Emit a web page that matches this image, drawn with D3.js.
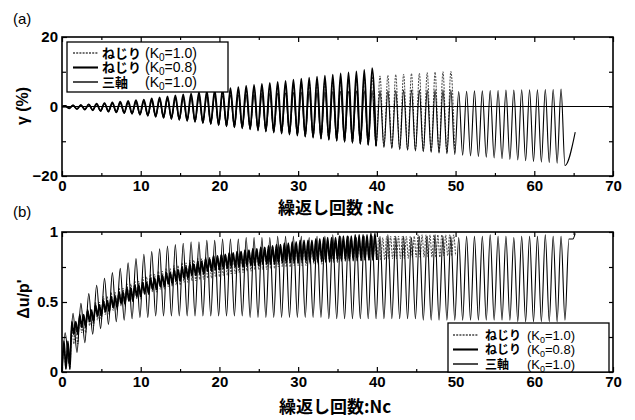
<!DOCTYPE html>
<html>
<head>
<meta charset="utf-8">
<script src="https://cdn.jsdelivr.net/npm/d3@7"></script>
<style>
body { margin: 0; background: #fff; }
text { font-family: "Liberation Sans", "Noto Sans CJK JP", sans-serif; fill: #000; }
</style>
</head>
<body>
<svg id="chart" width="635" height="420"></svg>
<script>
// tick values
var xTicks = [0, 10, 20, 30, 40, 50, 60, 70];
var xMinor = [5, 15, 25, 35, 45, 55, 65];
var gammaTicks = [-20, 0, 20];
var gammaMinor = [-10, 10];
var ratioTicks = [0, 0.5, 1];
var ratioMinor = [0.25, 0.75];

// legend
var legendNames = ["ねじり", "ねじり", "三軸"];
var legendK0 = ["1.0", "0.8", "1.0"];

// (a) shear strain peaks per cycle, %
var gammaTriUp = [0.3,0.4,0.5,0.6,0.6,0.8,0.9,1.0,1.1,1.2, 1.3,1.5,1.7,1.9,2.1,2.3,2.5,2.7,2.9,3.0,
  3.1,3.2,3.3,3.4,3.5,3.6,3.7,3.8,3.9,4.0, 4.1,4.2,4.2,4.3,4.3,4.4,4.4,4.5,4.5,4.5,
  4.6,4.6,4.6,4.7,4.7,4.7,4.7,4.8,4.8,4.8, 4.3,4.4,4.5,4.5,4.6,4.6,4.7,4.7,4.8,4.8,4.8,4.9,4.9,5.0];
var gammaTriLo = [-0.6,-0.8,-1.0,-1.2,-1.4,-1.6,-1.8,-2.0,-2.2,-2.5, -2.8,-3.1,-3.4,-3.7,-4.0,-4.3,-4.6,-4.9,-5.2,-5.5,
  -5.8,-6.1,-6.4,-6.7,-7.0,-7.3,-7.6,-7.9,-8.2,-8.5, -8.8,-9.1,-9.4,-9.7,-10.0,-10.3,-10.6,-10.9,-11.2,-11.5,
  -11.8,-12.1,-12.4,-12.6,-12.8,-13.0,-13.2,-13.4,-13.6,-13.8, -14.0,-14.2,-14.4,-14.6,-14.8,-15.0,-15.2,-15.4,-15.6,-15.8,-16.0,-16.1,-16.3,-17.0];
var gammaTriTailN = [65.2];
var gammaTriTail = [-7.4];
var gammaT10Up = [0.2,0.3,0.5,0.6,0.8,1.0,1.1,1.3,1.5,1.7, 1.9,2.1,2.3,2.6,2.8,3.0,3.3,3.5,3.8,4.0,
  4.3,4.5,4.8,5.0,5.3,5.5,5.8,6.0,6.3,6.5, 6.8,7.0,7.2,7.4,7.6,7.8,8.0,8.2,8.4,8.6,
  8.8,9.0,9.2,9.3,9.5,9.6,9.8,9.9,10.0,10.1];
var gammaT10Lo = [-0.5,-0.7,-0.9,-1.1,-1.3,-1.5,-1.7,-1.9,-2.1,-2.3, -2.6,-2.9,-3.2,-3.5,-3.8,-4.1,-4.4,-4.7,-5.0,-5.3,
  -5.6,-5.9,-6.2,-6.5,-6.8,-7.1,-7.4,-7.7,-8.0,-8.3, -8.6,-8.9,-9.2,-9.5,-9.8,-10.1,-10.4,-10.7,-11.0,-11.3,
  -11.6,-11.9,-12.2,-12.4,-12.6,-12.8,-13.0,-13.2,-13.4,-13.6];
var gammaT08Up = [0.2,0.3,0.4,0.6,0.8,1.0,1.2,1.4,1.6,1.8, 2.0,2.3,2.6,2.9,3.2,3.5,3.8,4.1,4.4,4.7,
  5.0,5.3,5.6,5.9,6.2,6.5,6.8,7.1,7.4,7.7, 8.0,8.3,8.6,8.9,9.2,9.5,9.8,10.1,10.5,11.0];
var gammaT08Lo = [-0.5,-0.7,-0.8,-1.0,-1.2,-1.4,-1.6,-1.8,-2.0,-2.2, -2.5,-2.8,-3.1,-3.4,-3.7,-4.0,-4.3,-4.6,-4.9,-5.2,
  -5.5,-5.8,-6.1,-6.4,-6.7,-7.0,-7.3,-7.6,-7.9,-8.2, -8.5,-8.8,-9.1,-9.4,-9.7,-10.0,-10.3,-10.6,-10.9,-11.3];

// (b) excess pore pressure ratio per cycle
var ratioTriPeak = [0.28,0.42,0.49,0.56,0.62,0.67,0.71,0.74,0.78,0.81, 0.84,0.86,0.88,0.9,0.91,0.92,0.93,0.93,0.94,0.94,
  0.95,0.95,0.95,0.96,0.96,0.96,0.96,0.97,0.97,0.97, 0.97,0.96,0.97,0.97,0.98,0.97,0.97,0.96,0.97,0.97,
  0.97,0.98,0.97,0.97,0.96,0.97,0.97,0.98,0.97,0.97, 0.96,0.97,0.97,0.97,0.98,0.97,0.97,0.96,0.97,0.97,0.97,0.98,0.97,0.97];
var ratioTriDip = [0.06,0.14,0.21,0.27,0.31,0.34,0.36,0.37,0.38,0.39, 0.39,0.4,0.4,0.4,0.4,0.4,0.4,0.4,0.4,0.4,
  0.4,0.4,0.4,0.39,0.39,0.39,0.39,0.39,0.39,0.39, 0.39,0.39,0.39,0.38,0.38,0.38,0.38,0.38,0.38,0.38,
  0.38,0.38,0.38,0.38,0.38,0.37,0.37,0.37,0.37,0.37, 0.37,0.37,0.37,0.37,0.37,0.37,0.37,0.36,0.36,0.36,0.36,0.36,0.36,0.37];
var ratioTriTailN = [64.4, 64.9, 65.2];
var ratioTriTail = [0.95, 0.95, 0.99];
var ratioT10Hi = [0.2,0.33,0.4,0.45,0.5,0.54,0.57,0.6,0.63,0.65, 0.68,0.7,0.72,0.74,0.76,0.78,0.8,0.81,0.82,0.83,
  0.84,0.85,0.86,0.87,0.88,0.89,0.9,0.9,0.91,0.92, 0.92,0.93,0.93,0.94,0.94,0.95,0.95,0.95,0.96,0.96,
  0.96,0.97,0.97,0.97,0.97,0.98,0.98,0.98,0.98,0.98];
var ratioT10Lo = [0.02,0.2,0.28,0.33,0.37,0.41,0.44,0.47,0.5,0.52, 0.55,0.57,0.59,0.61,0.62,0.64,0.65,0.66,0.67,0.68,
  0.69,0.7,0.71,0.72,0.73,0.73,0.74,0.75,0.75,0.76, 0.76,0.77,0.77,0.78,0.78,0.79,0.79,0.79,0.8,0.8,
  0.8,0.81,0.81,0.81,0.82,0.82,0.82,0.82,0.83,0.83];
var ratioT08Hi = [0.22,0.36,0.41,0.44,0.48,0.51,0.54,0.57,0.6,0.62, 0.64,0.67,0.69,0.71,0.73,0.75,0.77,0.79,0.81,0.83,
  0.84,0.85,0.86,0.87,0.88,0.89,0.9,0.91,0.92,0.93, 0.94,0.94,0.95,0.96,0.96,0.97,0.97,0.98,0.98,0.99];
var ratioT08Lo = [0.02,0.27,0.32,0.36,0.4,0.43,0.46,0.49,0.51,0.54, 0.56,0.59,0.61,0.63,0.65,0.67,0.69,0.7,0.72,0.73,
  0.74,0.75,0.75,0.76,0.76,0.77,0.77,0.78,0.78,0.78, 0.79,0.79,0.79,0.79,0.8,0.8,0.8,0.8,0.8,0.8];

var svg = d3.select("#chart");
var left = 62, right = 613;

var x = d3.scaleLinear().domain([0, 70]).range([left, right]);
var yA = d3.scaleLinear().domain([-20, 20]).range([176, 37]);
var yB = d3.scaleLinear().domain([0, 1]).range([372, 232]);

// one loading cycle: peak then trough
function cycles(up, lo) {
	var pts = [[0, 0]];
	up.forEach(function(v, i) {
		pts.push([i + 0.4, v]);
		pts.push([i + 0.9, lo[i]]);
	});
	return pts;
}
// torsion pore pressure: two swings per cycle
function doubleCycles(hi, lo) {
	var pts = [[0, 0]];
	hi.forEach(function(v, i) {
		pts.push([i + 0.25, v]);
		pts.push([i + 0.5, lo[i]]);
		pts.push([i + 0.75, v]);
		pts.push([i + 1.0, lo[i]]);
	});
	return pts;
}
function tail(pts, n, v) {
	n.forEach(function(t, i) { pts.push([t, v[i]]); });
	return pts;
}

var styles = [
	{ width: 1, dash: "2,1.2", color: "#444" },
	{ width: 1.8, dash: null, color: "#000" },
	{ width: 1.1, dash: null, color: "#000" }
];

function panel(y, yTicks, yMinor, yFmt, series, zeroLine) {
	var g = svg.append("g");
	var y0 = y.range()[0], y1 = y.range()[1];

	g.append("g").attr("transform", "translate(0," + y0 + ")")
		.call(d3.axisBottom(x).tickValues(xTicks).tickSize(-5).tickPadding(4).tickFormat(d3.format("d")));
	g.append("g").attr("transform", "translate(0," + y0 + ")")
		.call(d3.axisBottom(x).tickValues(xMinor).tickSize(-3).tickFormat(""));
	g.append("g").attr("transform", "translate(0," + y1 + ")")
		.call(d3.axisTop(x).tickValues(xTicks).tickSize(-5).tickFormat(""));
	g.append("g").attr("transform", "translate(0," + y1 + ")")
		.call(d3.axisTop(x).tickValues(xMinor).tickSize(-3).tickFormat(""));
	g.append("g").attr("transform", "translate(" + left + ",0)")
		.call(d3.axisLeft(y).tickValues(yTicks).tickSize(-5).tickPadding(4).tickFormat(yFmt));
	g.append("g").attr("transform", "translate(" + left + ",0)")
		.call(d3.axisLeft(y).tickValues(yMinor).tickSize(-4).tickFormat(""));
	g.append("g").attr("transform", "translate(" + right + ",0)")
		.call(d3.axisRight(y).tickValues(yTicks.concat(yMinor)).tickSize(-4).tickFormat(""));

	g.selectAll(".domain").remove();
	g.selectAll(".tick line").attr("stroke", "#000").attr("stroke-width", 1.2);
	g.selectAll(".tick text").style("font-size", "15px").style("font-weight", "bold")
		.style("font-family", "Liberation Sans, sans-serif");

	if (zeroLine) {
		g.append("line").attr("x1", left).attr("x2", right)
			.attr("y1", y(0)).attr("y2", y(0)).attr("stroke", "#000").attr("stroke-width", 1.2);
	}

	var line = d3.line().x(function(d) { return x(d[0]); }).y(function(d) { return y(d[1]); })
		.curve(d3.curveMonotoneX);

	series.forEach(function(s, i) {
		g.append("path").attr("d", line(s)).attr("fill", "none")
			.attr("stroke", styles[i].color).attr("stroke-width", styles[i].width)
			.attr("stroke-dasharray", styles[i].dash)
			.attr("stroke-linejoin", "round");
	});

	g.append("rect").attr("x", left).attr("y", y1).attr("width", right - left).attr("height", y0 - y1)
		.attr("fill", "none").attr("stroke", "#000").attr("stroke-width", 1.6);
	return g;
}

function legend(g, bx, by, bw, bh, lineX, textX, kX, rowY, fs) {
	g.append("rect").attr("x", bx).attr("y", by).attr("width", bw).attr("height", bh)
		.attr("fill", "#fff").attr("stroke", "#000").attr("stroke-width", 1.3);
	legendNames.forEach(function(name, i) {
		var yy = rowY + i * 14.5;
		g.append("line").attr("x1", lineX).attr("x2", lineX + 25).attr("y1", yy).attr("y2", yy)
			.attr("stroke", styles[i].color).attr("stroke-width", styles[i].width + 0.3)
			.attr("stroke-dasharray", styles[i].dash);
		g.append("text").attr("x", textX).attr("y", yy + fs * 0.38).style("font-size", fs + "px")
			.style("font-family", "Noto Sans CJK JP").style("font-weight", "bold").text(name);
		var t = g.append("text").attr("x", kX).attr("y", yy + fs * 0.38).style("font-size", (fs + 1) + "px");
		t.append("tspan").text("(K");
		t.append("tspan").attr("dy", 3).style("font-size", (fs - 3) + "px").text("0");
		t.append("tspan").attr("dy", -3).text("=" + legendK0[i] + ")");
	});
}

var gA = panel(yA, gammaTicks, gammaMinor, d3.format("d"), [
	cycles(gammaT10Up, gammaT10Lo),
	cycles(gammaT08Up, gammaT08Lo),
	tail(cycles(gammaTriUp, gammaTriLo), gammaTriTailN, gammaTriTail)
], true);
legend(gA, 67, 42, 161, 50, 73, 102, 145, 53, 13);

var gB = panel(yB, ratioTicks, ratioMinor, function(d) { return d === 0.5 ? "0.5" : d3.format("d")(d); }, [
	doubleCycles(ratioT10Hi, ratioT10Lo),
	doubleCycles(ratioT08Hi, ratioT08Lo),
	tail(cycles(ratioTriPeak, ratioTriDip), ratioTriTailN, ratioTriTail)
], false);
legend(gB, 448, 323, 161, 49, 453, 485, 527, 335, 12);

// panel letters and axis titles
svg.append("text").attr("x", 13).attr("y", 24).style("font-size", "15px").text("(a)");
svg.append("text").attr("x", 13).attr("y", 217).style("font-size", "15px").text("(b)");

svg.append("text").attr("x", 336).attr("y", 214).attr("text-anchor", "middle")
	.style("font-family", "Noto Sans CJK JP").style("font-weight", "bold").style("font-size", "17px")
	.text("繰返し回数 :Nc");
svg.append("text").attr("x", 335).attr("y", 413).attr("text-anchor", "middle")
	.style("font-family", "Noto Sans CJK JP").style("font-weight", "bold").style("font-size", "17px")
	.text("繰返し回数:Nc");

svg.append("text").attr("transform", "translate(28,106) rotate(-90)").attr("text-anchor", "middle")
	.style("font-size", "16px").style("font-weight", "bold").text("γ (%)");
svg.append("text").attr("transform", "translate(29,299) rotate(-90)").attr("text-anchor", "middle")
	.style("font-size", "16px").style("font-weight", "bold").text("Δu/p'");
</script>
</body>
</html>
